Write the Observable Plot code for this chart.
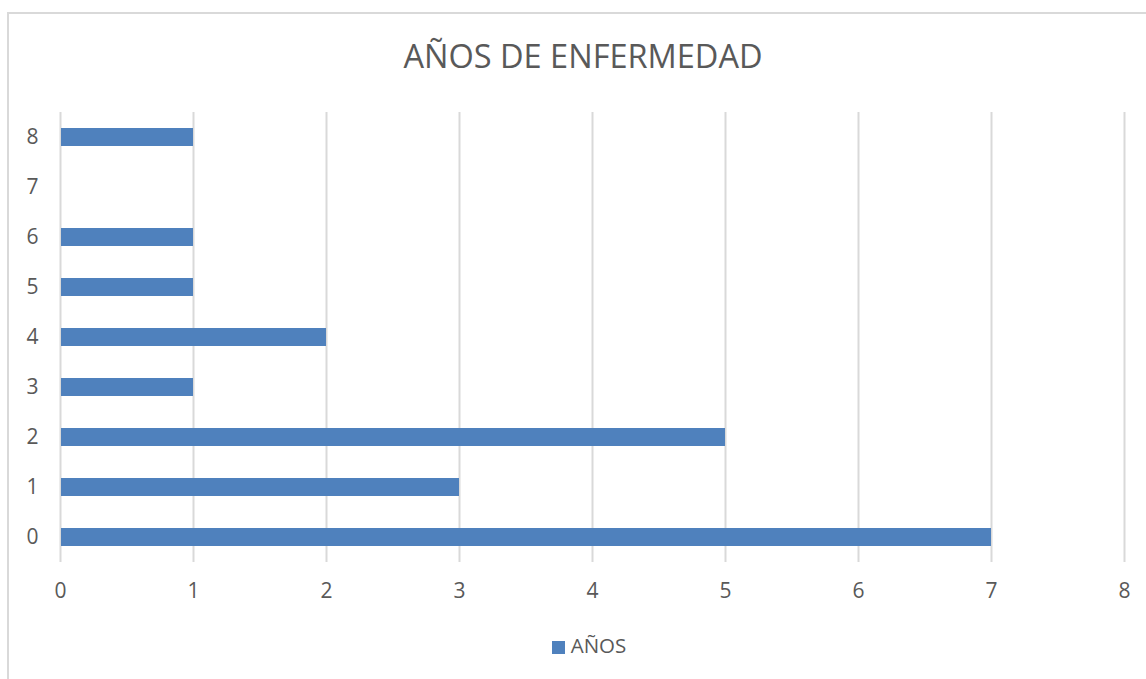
<!DOCTYPE html>
<html>
<head>
<meta charset="utf-8">
<script src="https://cdn.jsdelivr.net/npm/d3@7"></script>
<script src="https://cdn.jsdelivr.net/npm/@observablehq/plot@0.6"></script>
<style>
  html, body { margin: 0; padding: 0; background: #fff; }
  #chart { position: relative; width: 1146px; height: 679px; overflow: hidden; font-family: "Open Sans", sans-serif; color: #595959; }
  #frame { position: absolute; left: 7px; top: 12px; width: 1200px; height: 700px; border-left: 2px solid #d9d9d9; border-top: 2px solid #d9d9d9; }
  #title { position: absolute; left: 0; top: 35px; width: 1166px; text-align: center; font-size: 32.5px; line-height: 42px; color: #595959; }
  #plot { position: absolute; left: 0; top: 100px; }
  #legend { position: absolute; left: 0; top: 631px; width: 1178px; text-align: center; font-size: 20.5px; line-height: 28px; color: #595959; }
  #legend .sw { display: inline-block; width: 13px; height: 13px; background: #4f81bd; margin-right: 6px; vertical-align: -1px; }
</style>
</head>
<body>
<div id="chart">
  <div id="frame"></div>
  <div id="title">AÑOS DE ENFERMEDAD</div>
  <div id="plot"></div>
  <div id="legend"><span class="sw"></span>AÑOS</div>
</div>
<script>
// Years of illness (category) and how many cases fall in each
const categories = [0, 1, 2, 3, 4, 5, 6, 7, 8];
const counts = [7, 3, 5, 1, 2, 1, 1, 0, 1];
const xTicks = [0, 1, 2, 3, 4, 5, 6, 7, 8];
const seriesName = "AÑOS";

const rows = categories.map((c, i) => ({ category: c, value: counts[i], series: seriesName }));

const chart = Plot.plot({
  width: 1146,
  height: 510,
  marginLeft: 60,
  marginRight: 22,
  marginTop: 12,
  marginBottom: 48,
  style: { fontFamily: "Open Sans, sans-serif", fontSize: "21px", color: "#595959", background: "transparent" },
  x: { domain: [0, 8], ticks: xTicks, tickSize: 0, tickPadding: 21, label: null, tickFormat: d3.format("d") },
  y: { domain: categories.slice().reverse(), paddingInner: 0.64, paddingOuter: 0.32, tickSize: 0, tickPadding: 22, label: null },
  marks: [
    Plot.ruleX(xTicks, { stroke: "#d9d9d9", strokeWidth: 2 }),
    Plot.barX(rows, { x: "value", y: "category", fill: "#4f81bd", insetLeft: 1 })
  ]
});

document.getElementById("plot").appendChild(chart);
</script>
</body>
</html>
